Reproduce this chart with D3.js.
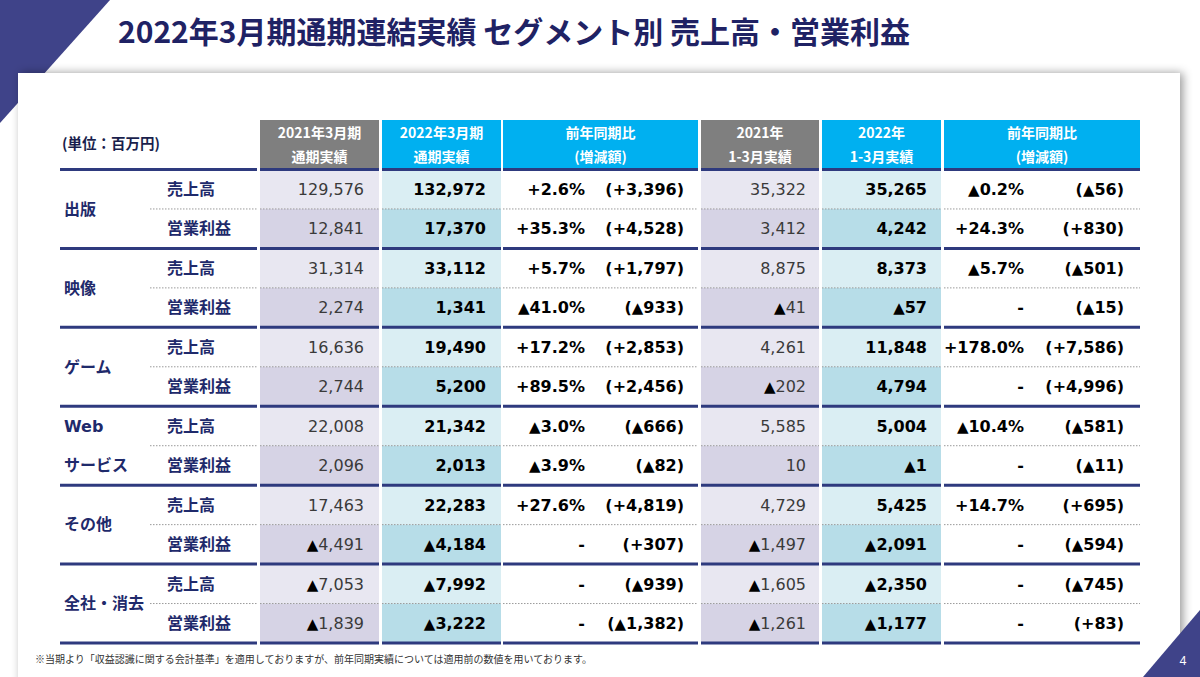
<!DOCTYPE html>
<html>
<head>
<meta charset="utf-8">
<script src="https://cdn.jsdelivr.net/npm/d3@7"></script>
<style>
  body { margin: 0; background: #fff; }
  svg { display: block; }
</style>
</head>
<body>
<div id="slide"></div>
<script>
// ---- data ----
const title = "2022年3月期通期連結実績 セグメント別 売上高・営業利益";
const unitLabel = "(単位：百万円)";
const footnote = "※当期より「収益認識に関する会計基準」を適用しておりますが、前年同期実績については適用前の数値を用いております。";
const pageNo = "4";

const segments = [["出版"], ["映像"], ["ゲーム"], ["Web", "サービス"], ["その他"], ["全社・消去"]];
const items = ["売上高", "営業利益"];

const headerLines = [
  ["2021年3月期", "通期実績"],
  ["2022年3月期", "通期実績"],
  ["前年同期比", "(増減額)"],
  ["2021年", "1-3月実績"],
  ["2022年", "1-3月実績"],
  ["前年同期比", "(増減額)"]
];

// one entry per row: segment order, 売上高 then 営業利益
const fyPrev   = [129576, 12841, 31314, 2274, 16636, 2744, 22008, 2096, 17463, -4491, -7053, -1839];
const fyCur    = [132972, 17370, 33112, 1341, 19490, 5200, 21342, 2013, 22283, -4184, -7992, -3222];
const fyPct    = [2.6, 35.3, 5.7, -41.0, 17.2, 89.5, -3.0, -3.9, 27.6, null, null, null];
const fyDiff   = [3396, 4528, 1797, -933, 2853, 2456, -666, -82, 4819, 307, -939, -1382];
const qPrev    = [35322, 3412, 8875, -41, 4261, -202, 5585, 10, 4729, -1497, -1605, -1261];
const qCur     = [35265, 4242, 8373, -57, 11848, 4794, 5004, -1, 5425, -2091, -2350, -1177];
const qPct     = [-0.2, 24.3, -5.7, null, 178.0, null, -10.4, null, 14.7, null, null, null];
const qDiff    = [-56, 830, -501, -15, 7586, 4996, -581, -11, 695, -594, -745, 83];

// ---- layout ----
const W = 1200, H = 677;
const navy = "#3f4389";
const titleColor = "#1f2264";
const labelColor = "#1f2a6b";
const lineColor = "#2e3a7e";

const leftArea = {x0: 60, x1: 257};
const cols = [
  {x0: 260, x1: 379, head: "#7f7f7f", fills: ["#e8e7f1", "#d6d3e5"]},
  {x0: 382, x1: 501, head: "#00b0f0", fills: ["#daeef3", "#b7dde8"]},
  {x0: 503, x1: 698, head: "#00b0f0", fills: ["#ffffff", "#ffffff"]},
  {x0: 701, x1: 819, head: "#7f7f7f", fills: ["#e8e7f1", "#d6d3e5"]},
  {x0: 822, x1: 941, head: "#00b0f0", fills: ["#daeef3", "#b7dde8"]},
  {x0: 944, x1: 1140, head: "#00b0f0", fills: ["#ffffff", "#ffffff"]}
];

const nRows = fyPrev.length;
const y = d3.scaleBand().domain(d3.range(nRows)).range([169.5, 643]).padding(0);
const rowMid = i => y(i) + y.bandwidth() / 2;

const fmtInt = d3.format(",");
const fmtNum = v => (v < 0 ? "▲" : "") + fmtInt(Math.abs(v));
const fmtPct = v => v == null ? "-" : (v < 0 ? "▲" : "+") + d3.format(".1f")(Math.abs(v)) + "%";
const fmtDiff = v => "(" + (v < 0 ? "▲" : "+") + fmtInt(Math.abs(v)) + ")";

const valueFont = "'DejaVu Sans', 'Noto Sans CJK JP', sans-serif";
const jpFont = "'Noto Sans CJK JP', 'Noto Sans', sans-serif";

const svg = d3.select("#slide").append("svg")
  .attr("width", W).attr("height", H);

const defs = svg.append("defs");
const shadow = defs.append("filter").attr("id", "shadow")
  .attr("x", "-5%").attr("y", "-10%").attr("width", "110%").attr("height", "120%");
shadow.append("feDropShadow")
  .attr("dx", 3).attr("dy", 0).attr("stdDeviation", 5)
  .attr("flood-color", "#000").attr("flood-opacity", 0.4);

// corner triangle top-left
svg.append("polygon")
  .attr("points", "0,0 110,0 0,123")
  .attr("fill", navy);

// white panel
svg.append("rect")
  .attr("x", 18).attr("y", 73)
  .attr("width", 1162).attr("height", 640)
  .attr("fill", "#fff")
  .attr("filter", "url(#shadow)");

// title
svg.append("text")
  .attr("x", 118).attr("y", 43)
  .attr("font-family", jpFont)
  .attr("font-weight", "bold")
  .attr("font-size", 30)
  .attr("fill", titleColor)
  .text(title);

// unit label
svg.append("text")
  .attr("x", 62).attr("y", 149)
  .attr("font-family", jpFont)
  .attr("font-weight", "bold")
  .attr("font-size", 14.5)
  .attr("fill", "#1a1f4d")
  .text(unitLabel);

// header cells
const head = svg.append("g");
cols.forEach((c, ci) => {
  head.append("rect")
    .attr("x", c.x0).attr("y", 120)
    .attr("width", c.x1 - c.x0).attr("height", 49)
    .attr("fill", c.head);
  headerLines[ci].forEach((line, li) => {
    head.append("text")
      .attr("x", (c.x0 + c.x1) / 2)
      .attr("y", 138 + li * 24)
      .attr("text-anchor", "middle")
      .attr("font-family", jpFont)
      .attr("font-weight", "bold")
      .attr("font-size", 14)
      .attr("fill", "#fff")
      .text(line);
  });
});

// body cell fills
const body = svg.append("g");
cols.forEach(c => {
  body.selectAll(null)
    .data(d3.range(nRows))
    .join("rect")
      .attr("x", c.x0)
      .attr("y", i => y(i))
      .attr("width", c.x1 - c.x0)
      .attr("height", y.bandwidth())
      .attr("fill", i => c.fills[i % 2]);
});

// dotted separators inside each segment
const spans = [{x0: 150, x1: leftArea.x1}].concat(cols);
const dotted = svg.append("g");
d3.range(1, nRows, 2).forEach(i => {
  spans.forEach(s => {
    dotted.append("line")
      .attr("x1", s.x0).attr("x2", s.x1)
      .attr("y1", y(i)).attr("y2", y(i))
      .attr("stroke", "#9a9a9a")
      .attr("stroke-width", 1)
      .attr("stroke-dasharray", "1.5,1.5");
  });
});

// thick segment lines (header bottom, each segment bottom)
const thickY = d3.range(0, nRows + 1, 2).map(i => i < nRows ? y(i) : y.range()[1]);
const thick = svg.append("g");
thickY.forEach(ty => {
  [leftArea].concat(cols).forEach(s => {
    thick.append("line")
      .attr("x1", s.x0).attr("x2", s.x1)
      .attr("y1", ty).attr("y2", ty)
      .attr("stroke", lineColor)
      .attr("stroke-width", 3);
  });
});

// segment labels
const segG = svg.append("g")
  .attr("font-weight", "bold")
  .attr("font-size", 16)
  .attr("fill", labelColor);
segments.forEach((seg, si) => {
  seg.forEach((part, pi) => {
    const cy = seg.length === 1 ? y(si * 2) + y.bandwidth() : rowMid(si * 2 + pi);
    segG.append("text")
      .attr("x", 64).attr("y", cy)
      .attr("dy", "0.36em")
      .attr("font-family", /^[A-Za-z]+$/.test(part) ? valueFont : jpFont)
      .text(part);
  });
});

// item labels
svg.append("g").selectAll("text")
  .data(d3.range(nRows))
  .join("text")
    .attr("x", 167).attr("y", i => rowMid(i))
    .attr("dy", "0.36em")
    .attr("font-family", jpFont)
    .attr("font-weight", "bold")
    .attr("font-size", 16)
    .attr("fill", labelColor)
    .text(i => items[i % 2]);

// value text with a black ▲ glyph
function valueText(g, x, str, bold) {
  g.each(function(i) {
    const t = d3.select(this).append("text")
      .attr("x", x).attr("y", rowMid(i))
      .attr("dy", "0.36em")
      .attr("text-anchor", "end")
      .attr("font-family", valueFont)
      .attr("font-size", 16)
      .attr("font-weight", bold ? "bold" : "normal")
      .attr("fill", bold ? "#000" : "#3a3a3a");
    str(i).split(/(▲)/).filter(p => p !== "").forEach(p => {
      const ts = t.append("tspan").text(p);
      if (p === "▲") ts.attr("font-size", 15).attr("fill", "#000");
    });
  });
}

const cells = svg.append("g").selectAll("g")
  .data(d3.range(nRows))
  .join("g");

valueText(cells, 364, i => fmtNum(fyPrev[i]), false);
valueText(cells, 486, i => fmtNum(fyCur[i]), true);
valueText(cells, 585, i => fmtPct(fyPct[i]), true);
valueText(cells, 684, i => fmtDiff(fyDiff[i]), true);
valueText(cells, 806, i => fmtNum(qPrev[i]), false);
valueText(cells, 927, i => fmtNum(qCur[i]), true);
valueText(cells, 1024, i => fmtPct(qPct[i]), true);
valueText(cells, 1124, i => fmtDiff(qDiff[i]), true);

// footnote
svg.append("text")
  .attr("x", 35).attr("y", 663)
  .attr("font-family", jpFont)
  .attr("font-size", 10)
  .attr("fill", "#333")
  .text(footnote);

// corner triangle bottom-right with page number
svg.append("polygon")
  .attr("points", "1200,610 1143,677 1200,677")
  .attr("fill", navy);
svg.append("text")
  .attr("x", 1183).attr("y", 665)
  .attr("text-anchor", "middle")
  .attr("font-family", "'Noto Sans', sans-serif")
  .attr("font-size", 12)
  .attr("fill", "#fff")
  .text(pageNo);
</script>
</body>
</html>
